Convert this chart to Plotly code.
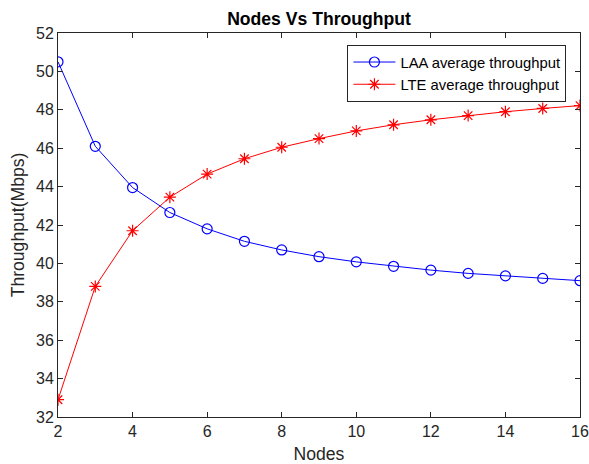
import plotly.graph_objects as go

nodes = list(range(2, 17))
laa = [50.5, 46.1, 43.95, 42.65, 41.8, 41.15, 40.7, 40.35, 40.08, 39.85, 39.65, 39.48, 39.35, 39.22, 39.1]
lte = [32.9, 38.8, 41.7, 43.45, 44.65, 45.45, 46.05, 46.5, 46.9, 47.22, 47.48, 47.7, 47.9, 48.07, 48.22]
x_ticks = list(range(2, 17, 2))
y_ticks = list(range(32, 53, 2))

fig = go.Figure()
fig.add_trace(go.Scatter(x=nodes, y=laa, mode="lines+markers", name="LAA average throughput",
                         line=dict(color="#0000ff", width=1),
                         marker=dict(symbol="circle-open", size=10, color="#0000ff", line=dict(width=1.2))))
fig.add_trace(go.Scatter(x=nodes, y=lte, mode="lines+markers", name="LTE average throughput",
                         line=dict(color="#ff0000", width=1),
                         marker=dict(symbol="asterisk-open", size=10, color="#ff0000",
                                     line=dict(width=1.2, color="#ff0000"))))

axis_common = dict(showgrid=False, zeroline=False, showline=True, linecolor="#262626", linewidth=1,
                   mirror="ticks", ticks="inside", ticklen=5, tickcolor="#262626", automargin=False,
                   tickfont=dict(size=16, color="#262626"))
fig.update_layout(
    width=589, height=464,
    margin=dict(l=58, r=9, t=33, b=47),
    paper_bgcolor="white", plot_bgcolor="white",
    font=dict(family="Liberation Sans, Arial, sans-serif", color="#262626"),
    title=dict(text="<b>Nodes Vs Throughput</b>", x=0.5, xref="paper", xanchor="center",
               y=0.959, yanchor="middle", font=dict(size=17.6, color="black")),
    xaxis=dict(range=[2, 16], tickvals=x_ticks,
               title=dict(text="Nodes", font=dict(size=17.6), standoff=8), **axis_common),
    yaxis=dict(range=[32, 52], tickvals=y_ticks,
               title=dict(text="Throughput(Mbps)", font=dict(size=17.6), standoff=6), **axis_common),
    legend=dict(x=0.974, y=0.969, xanchor="right", yanchor="top", bgcolor="white",
                bordercolor="#262626", borderwidth=1, font=dict(size=14.8, color="black"),
                tracegroupgap=0, itemwidth=42),
    showlegend=True,
)
fig.write_html("out.html", config={"displayModeBar": False},
               post_script="document.body.style.margin='0';document.body.style.overflow='hidden';")
